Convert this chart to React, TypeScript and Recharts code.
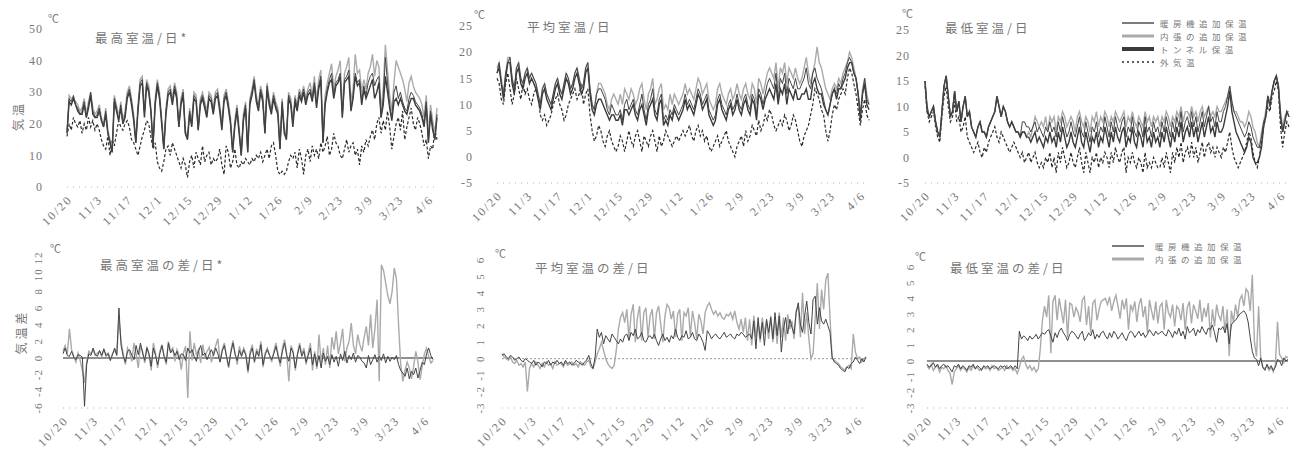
import React from 'react';
import { LineChart, Line, XAxis, YAxis, ReferenceLine } from 'recharts';

const SERIF = '"Liberation Serif", "DejaVu Serif", serif';
const JP = '"Noto Sans CJK JP", sans-serif';
const TXT = '#777';

// x axis: day index from 10/20, tick every 14 days
const dayTicks = [0, 14, 28, 42, 56, 70, 84, 98, 112, 126, 140, 154, 168];
const dateLabels = ['10/20', '11/3', '11/17', '12/1', '12/15', '12/29', '1/12', '1/26', '2/9', '2/23', '3/9', '3/23', '4/6'];

const seriesNames = ['暖房機追加保温', '内張の追加保温', 'トンネル保温', '外気温'];

// 最高室温/日
const maxHeater = [
  17, 28, 27, 29, 26, 25, 23, 24, 27, 22, 26, 30, 24, 22,
  23, 25, 21, 19, 24, 17, 14, 11, 28, 25, 21, 26, 20, 23,
  29, 31, 27, 22, 14, 25, 33, 34, 23, 33, 31, 24, 13, 27,
  33, 29, 21, 12, 24, 30, 31, 27, 32, 29, 19, 27, 30, 17,
  15, 24, 20, 29, 28, 18, 27, 29, 26, 23, 29, 28, 24, 29,
  30, 25, 19, 28, 30, 26, 21, 11, 20, 25, 18, 10, 22, 26,
  11, 27, 30, 34, 28, 25, 31, 28, 17, 32, 27, 24, 29, 26,
  24, 12, 27, 18, 15, 29, 27, 20, 28, 25, 30, 28, 31, 27,
  30, 31, 28, 33, 26, 32, 35, 14, 27, 31, 34, 36, 29, 33,
  34, 36, 22, 34, 35, 37, 25, 29, 36, 33, 34, 27, 32, 29,
  33, 35, 36, 32, 34, 35, 22, 28, 41, 33, 26, 22, 30, 32,
  28, 30, 27, 25, 24, 28, 30, 29, 27, 26, 25, 23, 20, 27,
  14, 24, 19, 15, 23,
];
const maxInner = [
  18, 29, 28, 28, 27, 26, 24, 25, 28, 23, 27, 30, 25, 23,
  24, 26, 22, 20, 25, 18, 15, 12, 29, 26, 22, 27, 21, 24,
  30, 32, 28, 23, 15, 26, 34, 35, 24, 34, 32, 25, 14, 28,
  34, 30, 22, 13, 25, 31, 32, 28, 33, 30, 20, 28, 31, 18,
  16, 25, 21, 30, 29, 19, 28, 30, 27, 24, 30, 29, 25, 30,
  31, 26, 20, 29, 31, 27, 22, 12, 21, 26, 19, 11, 23, 27,
  12, 28, 31, 35, 29, 26, 32, 29, 18, 33, 28, 25, 30, 27,
  25, 13, 28, 19, 16, 30, 28, 21, 29, 26, 31, 29, 32, 28,
  31, 33, 29, 35, 27, 34, 37, 15, 29, 33, 36, 39, 31, 35,
  37, 40, 24, 36, 38, 41, 27, 31, 42, 36, 37, 30, 34, 31,
  36, 38, 42, 35, 40, 38, 24, 31, 45, 37, 29, 24, 33, 40,
  38, 36, 34, 31, 27, 33, 35, 32, 30, 29, 28, 26, 22, 29,
  16, 26, 21, 17, 25,
];
const maxTunnel = [
  17, 27, 26, 28, 26, 24, 23, 23, 26, 22, 25, 29, 23, 22,
  22, 24, 21, 19, 23, 17, 14, 11, 27, 24, 21, 25, 20, 22,
  28, 30, 26, 21, 14, 24, 32, 33, 22, 32, 30, 24, 13, 26,
  32, 28, 20, 12, 23, 29, 30, 26, 31, 28, 19, 26, 29, 17,
  15, 23, 19, 28, 27, 18, 26, 28, 25, 22, 28, 27, 23, 28,
  29, 24, 18, 27, 29, 25, 20, 11, 19, 24, 17, 10, 21, 25,
  11, 26, 29, 33, 27, 24, 30, 27, 17, 31, 26, 23, 28, 25,
  23, 12, 26, 17, 15, 28, 26, 19, 27, 24, 29, 27, 30, 26,
  29, 30, 27, 32, 25, 31, 34, 14, 26, 30, 33, 34, 28, 32,
  33, 35, 22, 33, 34, 35, 24, 28, 35, 32, 33, 26, 31, 28,
  30, 32, 34, 28, 30, 33, 22, 26, 35, 30, 25, 21, 27, 28,
  26, 28, 26, 24, 23, 26, 28, 28, 26, 25, 24, 22, 19, 26,
  14, 23, 18, 15, 22,
];
const maxOutside = [
  16, 20, 18, 22, 20, 19, 21, 17, 20, 18, 22, 19, 21, 18,
  20, 18, 15, 13, 12, 16, 10, 15, 13, 17, 21, 19, 18, 20,
  21, 19, 15, 14, 12, 10, 13, 16, 18, 21, 20, 16, 12, 14,
  8, 6, 5, 8, 12, 13, 10, 14, 12, 10, 8, 6, 9, 7,
  3, 8, 10, 6, 11, 9, 7, 13, 8, 10, 11, 7, 9, 8,
  9, 12, 7, 4, 13, 11, 6, 8, 12, 7, 6, 8, 7, 9,
  8, 7, 9, 8, 10, 9, 11, 8, 10, 12, 9, 13, 14, 10,
  5, 4, 5, 4, 5, 8, 10, 9, 11, 6, 12, 9, 4, 10,
  12, 8, 13, 10, 12, 9, 14, 11, 13, 16, 10, 12, 17, 14,
  13, 10, 9, 12, 15, 11, 13, 14, 10, 12, 7, 13, 11, 15,
  13, 16, 18, 15, 20, 22, 17, 21, 18, 24, 19, 12, 16, 20,
  22, 18, 24, 15, 19, 22, 25, 20, 18, 22, 20, 17, 13, 15,
  9, 13, 12, 18, 15,
];

// 平均室温/日
const meanHeater = [
  16, 18, 14, 12, 16, 18, 19, 15, 13, 17, 18, 15, 14, 16,
  17, 15, 16, 15, 14, 12, 10, 13, 14, 12, 11, 10, 12, 14,
  15, 13, 12, 14, 16, 15, 13, 14, 16, 17, 15, 13, 14, 17,
  18, 13, 10, 9, 12, 13, 13, 12, 11, 9, 8, 10, 9, 8,
  8, 9, 7, 10, 11, 9, 10, 11, 9, 8, 10, 12, 9, 7,
  10, 11, 13, 9, 8, 11, 12, 7, 8, 7, 9, 8, 10, 9,
  8, 9, 10, 12, 10, 11, 10, 9, 11, 13, 12, 10, 11, 12,
  9, 8, 7, 8, 11, 12, 10, 9, 8, 10, 11, 9, 10, 12,
  10, 9, 11, 12, 10, 9, 12, 11, 8, 13, 12, 10, 12, 14,
  15, 14, 13, 16, 11, 15, 14, 16, 12, 15, 14, 13, 15, 13,
  13, 14, 15, 17, 14, 13, 16, 17, 15, 14, 13, 11, 9, 8,
  10, 12, 13, 12, 14, 13, 15, 16, 18, 19, 18, 16, 15, 12,
  8, 12, 15, 11, 10,
];
const meanInner = [
  17, 18, 15, 12, 16, 19, 19, 15, 13, 17, 18, 15, 14, 16,
  17, 15, 16, 15, 14, 12, 10, 13, 14, 12, 11, 10, 12, 14,
  15, 13, 12, 14, 16, 15, 13, 14, 16, 17, 15, 13, 14, 17,
  18, 13, 10, 9, 12, 14, 14, 13, 12, 10, 9, 11, 12, 11,
  10, 12, 10, 13, 12, 11, 13, 12, 10, 11, 13, 14, 11, 9,
  12, 13, 15, 10, 11, 13, 14, 9, 10, 9, 12, 10, 12, 11,
  10, 11, 12, 14, 12, 13, 12, 11, 13, 15, 14, 12, 13, 14,
  11, 10, 9, 10, 13, 14, 12, 11, 10, 12, 13, 11, 12, 14,
  12, 11, 13, 14, 12, 11, 14, 13, 10, 15, 14, 12, 14, 16,
  17, 16, 15, 18, 13, 17, 16, 18, 14, 17, 16, 15, 17, 15,
  14, 15, 17, 19, 16, 14, 16, 18, 21, 18, 17, 15, 13, 12,
  11, 13, 14, 13, 15, 14, 16, 17, 18, 20, 19, 17, 15, 12,
  8, 13, 15, 12, 10,
];
const meanTunnel = [
  16, 17, 14, 11, 15, 18, 18, 14, 12, 16, 17, 14, 13, 15,
  16, 14, 15, 14, 13, 11, 9, 12, 13, 11, 10, 9, 11, 13,
  14, 12, 11, 13, 15, 14, 12, 13, 15, 16, 14, 12, 13, 16,
  17, 12, 9, 8, 10, 11, 11, 10, 9, 8, 7, 8, 8, 7,
  7, 8, 6, 9, 9, 8, 9, 10, 8, 7, 9, 10, 8, 6,
  9, 10, 11, 8, 7, 10, 11, 6, 7, 6, 8, 7, 9, 8,
  7, 8, 9, 11, 9, 10, 9, 8, 10, 12, 11, 9, 10, 11,
  8, 7, 6, 7, 10, 11, 9, 8, 7, 9, 10, 8, 9, 11,
  9, 8, 10, 11, 9, 8, 11, 10, 7, 12, 11, 9, 11, 12,
  13, 12, 11, 14, 10, 13, 12, 14, 10, 13, 12, 11, 13, 11,
  11, 12, 12, 13, 11, 11, 14, 15, 13, 12, 12, 10, 9, 8,
  10, 12, 13, 11, 13, 13, 14, 15, 17, 18, 18, 16, 15, 12,
  7, 12, 14, 10, 9,
];
const meanOutside = [
  15, 14, 11, 10, 14, 16, 13, 10, 12, 15, 13, 11, 14, 12,
  13, 11, 10, 12, 13, 12, 8, 7, 8, 6, 7, 8, 10, 11,
  12, 10, 9, 7, 8, 10, 11, 12, 13, 11, 12, 14, 10, 12,
  13, 8, 5, 3, 4, 6, 5, 3, 2, 4, 5, 3, 2, 1,
  2, 4, 3, 1, 3, 5, 3, 2, 4, 5, 3, 1, 4, 3,
  2, 4, 5, 3, 1, 4, 2, 3, 5, 4, 3, 2, 3, 4,
  3, 4, 5, 4, 5, 6, 4, 3, 5, 6, 4, 5, 3, 4,
  2, 1, 2, 3, 4, 2, 3, 4, 5, 3, 2, 1, 0, 2,
  3, 4, 2, 5, 3, 4, 6, 5, 4, 7, 5, 6, 8, 7,
  9, 8, 6, 5, 6, 7, 6, 8, 7, 5, 6, 8, 7, 5,
  3, 2, 4, 5, 6, 8, 10, 13, 12, 11, 9, 8, 5, 3,
  5, 8, 10, 9, 11, 12, 13, 12, 15, 17, 16, 14, 12, 9,
  6, 9, 11, 8, 7,
];

// 最低室温/日
const minHeater = [
  15, 10, 8, 9, 10, 7, 5, 4, 9, 14, 16, 12, 8, 9,
  13, 9, 11, 7, 10, 12, 8, 9, 6, 5, 4, 6, 7, 5,
  5, 4, 6, 7, 8, 9, 12, 10, 8, 10, 9, 7, 6, 7,
  6, 5, 5, 4, 7, 7, 6, 6, 5, 6, 7, 5, 6, 5,
  4, 6, 5, 7, 5, 6, 4, 7, 5, 8, 6, 4, 5, 7,
  5, 4, 6, 8, 5, 4, 7, 5, 3, 6, 5, 7, 4, 6,
  5, 8, 6, 4, 7, 5, 8, 6, 5, 7, 8, 4, 6, 5,
  8, 5, 4, 7, 6, 4, 8, 5, 6, 4, 7, 5, 6, 4,
  7, 5, 8, 6, 4, 7, 5, 8, 6, 9, 5, 7, 8, 6,
  9, 6, 8, 5, 7, 9, 6, 8, 10, 7, 8, 6, 9, 7,
  7, 9, 10, 12, 14, 11, 9, 8, 7, 6, 5, 4, 5, 7,
  6, 4, 3, 2, 2, 4, 7, 8, 12, 10, 13, 15, 16, 14,
  8, 5, 7, 9, 8,
];
const minInner = [
  15, 10, 8, 9, 10, 7, 5, 4, 9, 14, 16, 12, 8, 9,
  13, 9, 11, 7, 10, 12, 8, 9, 6, 5, 4, 6, 7, 5,
  5, 4, 6, 7, 8, 9, 12, 10, 8, 10, 9, 7, 6, 7,
  6, 5, 5, 4, 5, 5, 4, 5, 4, 6, 8, 7, 6, 7,
  6, 8, 5, 8, 7, 8, 5, 8, 7, 9, 8, 6, 7, 8,
  7, 5, 8, 9, 7, 6, 8, 7, 5, 8, 7, 9, 6, 8,
  7, 9, 8, 6, 8, 7, 9, 8, 7, 8, 9, 6, 8, 7,
  9, 7, 6, 8, 7, 6, 9, 7, 8, 6, 8, 7, 8, 6,
  8, 7, 9, 8, 6, 8, 7, 9, 8, 10, 7, 9, 9, 8,
  10, 8, 9, 7, 9, 10, 8, 9, 10, 8, 9, 8, 10, 9,
  9, 10, 11, 12, 14, 11, 9, 9, 8, 7, 7, 6, 7, 9,
  8, 6, 5, 3, 2, 5, 7, 9, 12, 11, 13, 15, 16, 14,
  9, 6, 8, 9, 9,
];
const minTunnel = [
  15, 9, 8, 9, 10, 7, 5, 4, 9, 14, 16, 12, 8, 9,
  13, 9, 11, 7, 10, 12, 8, 9, 6, 5, 4, 6, 7, 5,
  5, 4, 6, 7, 8, 9, 12, 10, 8, 10, 9, 7, 6, 7,
  6, 5, 5, 4, 5, 5, 4, 4, 3, 4, 5, 3, 4, 3,
  2, 4, 3, 5, 3, 4, 2, 5, 3, 6, 4, 2, 3, 5,
  3, 2, 4, 6, 3, 2, 5, 3, 1, 4, 3, 5, 2, 4,
  3, 6, 4, 2, 5, 3, 6, 4, 3, 5, 6, 2, 4, 3,
  6, 3, 2, 5, 4, 2, 6, 3, 4, 2, 5, 3, 4, 2,
  5, 3, 6, 4, 2, 5, 3, 6, 4, 7, 3, 5, 6, 4,
  7, 4, 6, 3, 5, 7, 4, 6, 8, 5, 6, 4, 7, 5,
  5, 6, 8, 10, 13, 9, 7, 5, 4, 3, 2, 1, 2, 4,
  3, 0, -1, -1, 0, 2, 6, 8, 12, 10, 13, 15, 16, 14,
  8, 5, 7, 9, 8,
];
const minOutside = [
  14, 9, 7, 8, 9, 6, 4, 3, 8, 12, 14, 10, 7, 8,
  11, 7, 8, 5, 6, 8, 4, 3, 2, 1, 2, 3, 1, 0,
  2, 1, 3, 4, 5, 6, 4, 3, 5, 4, 3, 2, 1, 2,
  3, 2, 1, 0, 1, -1, 0, 1, -1, 0, 1, -1, -2, -1,
  -2, 0, -1, 1, -2, 0, -3, 1, -1, 2, 0, -2, -1, 1,
  -1, -2, 0, 2, -1, -3, 1, -1, -3, 0, -1, 1, -2, 0,
  -1, 1, 0, -2, 1, -1, 2, 0, -1, 1, 2, -3, 0, -1,
  1, -1, -2, 0, -1, -3, 1, -2, -1, -2, 0, -1, -2, -2,
  0, -2, 1, -1, -3, 1, -1, 2, 0, 3, -1, 1, 2, 0,
  3, 0, 2, -1, 1, 3, 0, 2, 3, 1, 2, 0, 2, 1,
  0, 2, 1, 3, 5, 2, 0, -1, -2, -1, 0, 1, 3, 5,
  4, 1, -1, -2, 0, 3, 6, 8, 10, 9, 12, 13, 15, 13,
  6, 2, 5, 7, 6,
];

// 最高室温の差/日
const diffMaxHeater = [
  0.5, 1.2, 0.3, 0.2, 0.8, 0.1, -0.2, 0.4, 0.3, 0.1, -5.8, -0.8, 0.5, 0.3,
  1.2, 0.4, 0.2, 0.9, 0.3, 1.1, 0.2, 0.5, -0.3, 0.4, 1.2, 0.3, 6, 1.5,
  0.2, -0.5, 0.8, 1, 0.3, -0.2, 1.5, 0.4, 1.8, 0.6, -0.3, 1.2, 0.5, -1,
  1.2, 0.3, -0.8, 0.5, 1.5, 0.2, -0.5, 1.8, 0.6, 1, 0.3, 0.8, -0.2, 0.5,
  0.4, -0.3, 1.2, 0.6, 1, 0.2, -0.4, 0.8, 1.5, 0.3, 0.6, -0.2, 0.5, 1,
  0.3, 1.2, 0.5, -0.5, 0.8, 1.5, 0.2, -1, 0.6, 1.8, 0.4, -0.3, 0.9, 0.2,
  1, 0.3, -1.5, 0.5, 1.2, -0.4, 0.8, 0.2, 1.6, -0.8, 0.4, 1, 0.3, -0.2,
  0.5, 1.4, 0.2, -0.6, 0.8, 1.8, 0.3, -0.4, 1.2, 0.6, -1.2, 0.4, 1.5, 0.2,
  0.8, -0.5, 0.3, 1.2, -0.8, 0.5, -1, 0.3, -1.2, 0.6, -0.4, 0.2, -0.8, 0.4,
  -0.5, 0.2, -1, 0.5, -0.3, 0.8, -0.6, 0.3, -0.2, 0.6, -0.5, 0.3, 0.1, -0.4,
  -0.6, -1.2, 0.3, -0.8, -0.2, 0.4, -0.5, 0.2, -0.3, 0.5, -0.6, 0.2, -0.4, 0.1,
  -0.2, 0.3, -0.8, -1.5, -1.8, -2.2, -1.2, -2.5, -1.6, -2, -1.2, -2.4, -1.5, -0.5,
  -0.8, 0.5, 1.2, 0.3, -0.2,
];
const diffMaxInner = [
  0.8, 1.5, 0.5, 3.5, 1, 0.2, -0.5, 0.6, -0.3, -1.5, -3, -0.5, 0.8, 0.5,
  1, 0.3, 0.6, 0.8, 0.2, 1, 0.4, 0.6, -0.2, 0.5, 1, 0.4, 4.5, 2,
  0.5, -0.8, 1.2, 0.6, -0.4, 1.8, 0.5, -1.2, 1.5, 0.8, -0.6, 1.4, 0.3, -1.5,
  1.8, 0.6, -1.2, 0.8, 1.6, 0.2, -0.8, 2, 0.8, 1.2, -0.4, 1, 0.3, -1.4,
  0.6, 1.4, -4.8, 3.2, -0.3, 1.8, 0.4, 1, -0.6, 1.6, 0.2, 0.8, 1.3, -0.5,
  0.6, 1.5, 2.3, -0.4, 1, 1.8, 0.2, -1.2, 0.8, 2.1, 0.6, -0.8, 1.4, 0.3,
  1.2, 0.5, -1.8, 0.8, 1.6, -0.6, 1.1, 0.4, 2, -1.1, 0.6, 1.2, 0.4, -0.5,
  0.8, 1.8, 0.4, -1, 1.2, 2.2, 0.5, -2.8, 1.5, 0.8, -1.5, 0.5, 1.8, 0.4,
  1.2, -0.8, 0.6, 1.8, -1.5, 0.8, -1.3, 2.8, -0.6, 1.2, -0.8, 1.5, -1.2, 2.5,
  1, 3.2, 0.5, 1.8, 3.5, -0.4, 1.2, 2, 4.2, 1.5, 0.5, 2.8, 1.6, 0.8,
  2.5, 3.8, 1.5, 5.2, 1.2, 3.5, 7, -2.8, 11.2, 10.5, 9, 7.5, 6.5, 8,
  10.8, 9.5, 4, -0.8, -2.8, -1.5, -0.5, -1.2, -2.5, -1, 0.8, -0.5, -2.6, -1,
  0.5, 1.2, 0.2, -0.6, -0.3,
];

// 平均室温の差/日
const diffMeanHeater = [
  0.2, 0.3, 0.1, 0, 0.2, 0.1, -0.1, 0, 0.1, -0.1, -0.2, 0, -0.1, -0.2,
  -0.3, -0.1, -0.4, -0.2, -0.3, -0.5, -0.2, -0.3, -0.1, -0.4, -0.2, -0.3, -0.1, -0.3,
  -0.2, -0.4, -0.1, -0.3, -0.2, -0.4, -0.3, -0.1, -0.2, -0.3, -0.4, -0.2, -0.1, 0.2,
  -0.3, -0.6, 0.1, 1.8, 1.3, 1.6, 0.9, 1.4, 1.2, 1, 1.5, 1.3, 1.1, 0.9,
  1.2, 1, 1.4, 1.5, 1.1, 1.6, 1.4, 1.8, 1.2, 1.3, 1.6, 1.1, 1, 1.3,
  1.4, 1.2, 1.5, 1.1, 0.8, 1.2, 1.5, 1.1, 1.3, 1, 1.4, 1.2, 1.8, 1.3,
  1.1, 1.4, 1.3, 1.7, 1.2, 1.3, 1.6, 1.2, 1.1, 1.5, 1.3, 1, 0.5, 1.7,
  1.5, 1.2, 1.4, 1.5, 1.3, 1.2, 1.4, 1.6, 1.3, 1.4, 1.5, 1.3, 1.2, 1.5,
  1.4, 1.6, 1.5, 1.3, 1.4, 1.5, 1.2, 2.3, 0.6, 2.5, 1.2, 2.2, 0.8, 2.4,
  1.6, 2.5, 1.2, 2.8, 1.4, 2.6, 0.4, 1.8, 2.5, 1.5, 2.4, 1.9, 1.5, 2.8,
  3.4, 2.1, 1.6, 2.6, 3.5, 2.2, 1.5, 3.6, 3.8, 2.1, 3.1, 2.3, 2.1, 2.4,
  2, 1.6, 0.1, -0.2, -0.3, -0.4, -0.6, -0.7, -0.8, -0.5, -0.6, -0.3, -0.2, 0.1,
  -0.1, -0.3, 0, -0.2, 0.1,
];
const diffMeanInner = [
  0.3, 0.1, 0, -0.1, 0.1, -0.2, -0.3, -0.1, -0.4, -0.3, -0.5, -0.2, -2, -0.6,
  -0.3, -0.5, -0.2, -0.4, -0.6, -0.3, -0.5, -0.2, -0.4, -0.3, -0.6, -0.2, -0.4, -0.3,
  -0.3, -0.5, -0.2, -0.4, -0.3, -0.2, -0.4, -0.3, -0.5, -0.2, -0.3, -0.4, -0.2, -0.1,
  -0.5, -0.6, -0.2, 0.3, 0.6, 1, 0.5, 0, -0.3, -0.5, -0.6, -0.4, 0.5, 1.8,
  2.5, 2.8, 2.2, 3, 1.2, 2.7, 3.3, 1, 2.5, 3.2, 1.1, 2.8, 3.1, 1.3,
  2.6, 3, 1.2, 2.8, 3.2, 2.1, 1, 2.6, 3.3, 3.1, 2.4, 2.9, 1.3, 2.7,
  3, 1.1, 2.8, 2.6, 3.1, 1.4, 2.9, 2.2, 1.2, 2.7, 2.3, 1.5, 2.8, 3.2,
  3.4, 3, 2.7, 2.9, 2.6, 2.8, 2.5, 2.4, 2.7, 2.6, 2.8, 2.4, 2.9, 2.2,
  1.8, 2.4, 1.6, 2.5, 1.1, 2.4, 0.8, 2.6, 1.3, 2.2, 1, 2.5, 1.5, 2.3,
  1.2, 2.6, 1, 2.4, 0.9, 2.8, 1.3, 2.5, 1.1, 2.7, 1.8, 2.3, 1.2, 2.9,
  3.2, 1.3, 4, 1.5, 2.8, 1.2, 0, 0.3, 2.5, 4.6, 1.8, 4.2, 3, 4.8,
  5.2, 2.5, 0, -0.1, -0.2, -0.3, -0.5, -0.6, -0.7, -0.5, -0.4, -0.6, 1.5, 0.4,
  0, 0.1, -0.2, 0, 0.1,
];

// 最低室温の差/日
const diffMinHeater = [
  -0.2, -0.4, -0.3, -0.1, -0.4, -0.2, -0.5, -0.3, -0.2, -0.4, -0.3, -0.5, -0.7, -0.3,
  -0.4, -0.2, -0.5, -0.3, -0.4, -0.6, -0.3, -0.4, -0.2, -0.5, -0.3, -0.4, -0.6, -0.3,
  -0.4, -0.3, -0.5, -0.4, -0.3, -0.4, -0.5, -0.3, -0.4, -0.3, -0.5, -0.4, -0.3, -0.5,
  -0.3, -0.5, 1.9, 1.4, 1.6, 1.5, 1.3, 1.6, 1.4, 1.5, 1.7, 1.4, 1.6, 1.8,
  1.7, 1.9, 2, 1.6, 1.2, 1.8, 1.5, 1.9, 2.1, 1.8, 1.6, 1.3, 1.7, 1.9,
  1.8, 1.6, 1.4, 1.7, 1.9, 1.3, 1.5, 1.8, 1.6, 2, 1.4, 1.7, 1.5, 1.8,
  1.9, 1.6, 1.4, 1.8, 1.5, 1.9, 1.7, 1.4, 1.6, 1.8, 1.5, 1.3, 1.7, 1.9,
  1.8, 1.5, 1.7, 1.9, 1.6, 1.8, 1.5, 1.7, 2, 1.8, 1.6, 1.9, 1.7, 1.8,
  1.9, 1.7, 1.6, 2, 1.8, 1.5, 1.9, 1.7, 2.1, 1.6, 1.9, 1.4, 2.2, 1.8,
  1.9, 2.1, 1.6, 2, 1.8, 2.2, 1.9, 1.7, 2.1, 2, 2.3, 1.8, 1.2, 2.1,
  2, 2.2, 1.8, 2.4, 1.1, 2.3, 2.5, 2.6, 2.8, 3, 3.1, 3.2, 3, 2.5,
  1.5, 0.6, 0.2, 0.1, -0.3, 0.2, -0.4, -0.6, -0.2, -0.5, -0.3, -0.6, -0.4, 0.1,
  0, -0.3, 0.2, 0, 0.1,
];
const diffMinInner = [
  -0.3, -0.5, -0.2, -0.6, -0.4, -0.3, -0.7, -0.4, -0.5, -0.3, -0.6, -0.8, -1.5, -0.7,
  -0.5, -0.3, -0.6, -0.4, -0.5, -0.7, -0.4, -0.6, -0.3, -0.5, -0.4, -0.6, -0.5, -0.4,
  -0.5, -0.4, -0.6, -0.3, -0.5, -0.4, -0.6, -0.5, -0.4, -0.6, -0.3, -0.5, -0.4, -0.6,
  -0.5, -0.8, -0.4, 0.1, 0.3, -0.2, -0.5, -0.3, -0.6, -0.4, -0.7, -0.5, 0.8, 2.6,
  3.5, 2.8, 4.2, 0.5, 3.8, 4.2, 2.6, 4, 3.2, 2.4, 3.9, 1.5, 3.7, 3.6,
  2.8, 3.4, 3.1, 2.5, 3.9, 4.1, 2.3, 3.5, 1.8, 3.7, 3.9, 2.6, 3.3, 3.8,
  3.9, 4, 3.6, 4.1, 3.2, 3.8, 4.2, 3.5, 2.7, 3.9, 3.3, 4, 2, 3.6,
  3.2, 3.8, 2.5, 3.6, 4, 2.8, 3.5, 1.8, 3.9, 3.2, 2.6, 3.8, 2.4, 3.5,
  3.7, 2, 3.9, 3.1, 2.8, 3.6, 2.2, 3.5, 3.3, 2.6, 3.7, 2, 3.4, 3.8,
  2.4, 3.6, 3.2, 2.7, 3.9, 2.5, 3.4, 2.8, 3.7, 1.5, 3.3, 2.2, 3.6, 2.9,
  2.6, 3.5, 1.8, 3.3, 0.3, 3.2, 2.5, 3.6, 2.8, 3.9, 4.2, 3.5, 4.6, 4.4,
  3.2, 5.5, 1.2, 0.3, 3.5, 0.2, -0.4, -0.5, -0.3, -0.6, -0.4, -0.7, -0.2, 2.5,
  0.4, 0.2, -0.1, 0.3, 0.2,
];

type SeriesStyle = { key: string; color: string; width: number; dash?: string };

const styleHeater: SeriesStyle = { key: 'a', color: '#444', width: 1 };
const styleInner: SeriesStyle = { key: 'b', color: '#aaa', width: 1.4 };
const styleTunnel: SeriesStyle = { key: 'c', color: '#3a3a3a', width: 1.4 };
const styleOutside: SeriesStyle = { key: 'd', color: '#2a2a2a', width: 1.2, dash: '3 2' };

function buildRows(a: number[], b: number[], c?: number[], d?: number[]) {
  return a.map((v, i) => ({ day: i, a: v, b: b[i], c: c ? c[i] : null, d: d ? d[i] : null }));
}

const DateTick = (props: any) => {
  const { x, y, payload } = props;
  const idx = dayTicks.indexOf(payload.value);
  return (
    <g transform={`translate(${x},${y})`}>
      <text x={0} y={0} dy="0.72em" textAnchor="end" fontSize={12} letterSpacing={2} fill={TXT} fontFamily={SERIF} transform="rotate(-45)">
        {dateLabels[idx]}
      </text>
    </g>
  );
};

const ValueTick = (props: any) => {
  const { x, y, payload } = props;
  return (
    <text x={x} y={y} dy="0.35em" textAnchor="end" fontSize={12} letterSpacing={1} fill={TXT} fontFamily={SERIF}>
      {payload.value}
    </text>
  );
};

const SideTick = (props: any) => {
  const { x, y, payload } = props;
  return (
    <text x={x} y={y} textAnchor="middle" fontSize={11} letterSpacing={1} fill={TXT} fontFamily={SERIF} transform={`rotate(-90 ${x} ${y})`}>
      {payload.value}
    </text>
  );
};

interface PanelProps {
  left: number;
  top: number;
  width: number;
  height: number;
  plotLeft: number;
  plotRight: number;
  plotTop: number;
  plotBottom: number;
  yDomain: [number, number];
  yTicks: number[];
  yMargin: number;
  sideways?: boolean;
  rows: any[];
  series: SeriesStyle[];
  zeroLine?: 'solid' | 'dotted';
}

const Panel: React.FC<PanelProps> = (p) => (
  <div style={{ position: 'absolute', left: p.left, top: p.top }}>
    <LineChart
      width={p.width}
      height={p.height}
      data={p.rows}
      margin={{ top: p.plotTop, right: p.width - p.plotRight, bottom: 0, left: 0 }}
    >
      <XAxis
        type="number"
        dataKey="day"
        domain={[0, 172]}
        ticks={dayTicks}
        interval={0}
        height={p.height - p.plotBottom}
        tick={<DateTick />}
        tickLine={false}
        tickSize={0}
        tickMargin={7}
        axisLine={{ stroke: '#b0b0b0', strokeDasharray: '1 5' }}
      />
      <YAxis
        type="number"
        domain={p.yDomain}
        ticks={p.yTicks}
        interval={0}
        width={p.plotLeft}
        tick={p.sideways ? <SideTick /> : <ValueTick />}
        tickLine={false}
        tickSize={0}
        tickMargin={p.yMargin}
        axisLine={false}
        allowDataOverflow
      />
      {p.zeroLine && (
        <ReferenceLine
          y={0}
          stroke={p.zeroLine === 'solid' ? '#222' : '#999'}
          strokeWidth={p.zeroLine === 'solid' ? 1.2 : 1}
          strokeDasharray={p.zeroLine === 'solid' ? undefined : '2 2'}
        />
      )}
      {p.series.map((s) => (
        <Line
          key={s.key}
          type="linear"
          dataKey={s.key}
          stroke={s.color}
          strokeWidth={s.width}
          strokeDasharray={s.dash}
          dot={false}
          isAnimationActive={false}
        />
      ))}
    </LineChart>
  </div>
);

const Label = ({ x, y, text, size = 12.5, spacing = 3 }: { x: number; y: number; text: string; size?: number; spacing?: number }) => (
  <div style={{ position: 'absolute', left: x, top: y, fontSize: size, lineHeight: 1, letterSpacing: spacing, fontFamily: JP, color: TXT, whiteSpace: 'nowrap' }}>
    {text}
  </div>
);

const VLabel = ({ cx, cy, text }: { cx: number; cy: number; text: string }) => (
  <div
    style={{
      position: 'absolute', left: cx - 30, top: cy - 7, width: 60, height: 14, textAlign: 'center',
      fontSize: 12, lineHeight: '14px', letterSpacing: 3, fontFamily: JP, color: TXT, transform: 'rotate(-90deg)',
    }}
  >
    {text}
  </div>
);

const LegendRow = ({ x, y, text, s, textX }: { x: number; y: number; text: string; s: SeriesStyle; textX: number }) => (
  <>
    <svg style={{ position: 'absolute', left: x, top: y - 4 }} width={32} height={8}>
      <line x1={0} y1={4} x2={32} y2={4} stroke={s.color} strokeWidth={s === styleTunnel ? 4 : s === styleInner ? 3 : s.width + 0.4}
        strokeDasharray={s === styleOutside ? '2 3' : undefined} />
    </svg>
    <div style={{ position: 'absolute', left: textX, top: y - 5, fontSize: 8.5, lineHeight: '10px', letterSpacing: 4.5, fontFamily: JP, color: TXT, whiteSpace: 'nowrap' }}>
      {text}
    </div>
  </>
);

const topSeries = [styleOutside, styleInner, styleTunnel, styleHeater];
const bottomSeries = [styleInner, styleHeater];

export default function App() {
  const rowsMax = buildRows(maxHeater, maxInner, maxTunnel, maxOutside);
  const rowsMean = buildRows(meanHeater, meanInner, meanTunnel, meanOutside);
  const rowsMin = buildRows(minHeater, minInner, minTunnel, minOutside);
  const rowsDMax = buildRows(diffMaxHeater, diffMaxInner);
  const rowsDMean = buildRows(diffMeanHeater, diffMeanInner);
  const rowsDMin = buildRows(diffMinHeater, diffMinInner);

  return (
    <div style={{ position: 'absolute', left: 0, top: 0, width: 1294, height: 451, background: '#fff', overflow: 'hidden' }}>
      <Panel left={0} top={0} width={445} height={232} plotLeft={67} plotRight={437} plotTop={29} plotBottom={187}
        yDomain={[0, 50]} yTicks={[0, 10, 20, 30, 40, 50]} yMargin={24} rows={rowsMax} series={topSeries} />
      <Panel left={440} top={0} width={435} height={232} plotLeft={57} plotRight={429} plotTop={26} plotBottom={183}
        yDomain={[-5, 25]} yTicks={[-5, 0, 5, 10, 15, 20, 25]} yMargin={24} rows={rowsMean} series={topSeries} />
      <Panel left={870} top={0} width={424} height={232} plotLeft={55} plotRight={419} plotTop={30} plotBottom={183}
        yDomain={[-5, 25]} yTicks={[-5, 0, 5, 10, 15, 20, 25]} yMargin={15} rows={rowsMin} series={topSeries} />

      <Panel left={0} top={230} width={445} height={221} plotLeft={63} plotRight={433} plotTop={28} plotBottom={178}
        yDomain={[-6, 12]} yTicks={[-6, -4, -2, 0, 2, 4, 6, 8, 10, 12]} yMargin={21} sideways rows={rowsDMax}
        series={bottomSeries} zeroLine="solid" />
      <Panel left={440} top={230} width={435} height={221} plotLeft={62} plotRight={426} plotTop={30} plotBottom={178}
        yDomain={[-3, 6]} yTicks={[-3, -2, -1, 0, 1, 2, 3, 4, 5, 6]} yMargin={18} sideways rows={rowsDMean}
        series={bottomSeries} zeroLine="dotted" />
      <Panel left={870} top={230} width={424} height={221} plotLeft={57} plotRight={418} plotTop={37} plotBottom={178}
        yDomain={[-3, 6]} yTicks={[-3, -2, -1, 0, 1, 2, 3, 4, 5, 6]} yMargin={13} sideways rows={rowsDMin}
        series={bottomSeries} zeroLine="solid" />

      <Label x={95} y={32} text="最高室温/日*" />
      <Label x={527} y={21} text="平均室温/日" />
      <Label x={945} y={22} text="最低室温/日" />
      <Label x={100} y={259} text="最高室温の差/日*" />
      <Label x={535} y={262} text="平均室温の差/日" />
      <Label x={950} y={262} text="最低室温の差/日" />

      <Label x={48} y={13} text="℃" size={11} spacing={0} />
      <Label x={474} y={9} text="℃" size={11} spacing={0} />
      <Label x={902} y={8} text="℃" size={11} spacing={0} />
      <Label x={50} y={243} text="℃" size={11} spacing={0} />
      <Label x={495} y={248} text="℃" size={11} spacing={0} />
      <Label x={915} y={251} text="℃" size={11} spacing={0} />

      <VLabel cx={18} cy={116} text="気温" />
      <VLabel cx={21} cy={332} text="気温差" />

      <LegendRow x={1122} y={23} textX={1160} text={seriesNames[0]} s={styleHeater} />
      <LegendRow x={1122} y={36} textX={1160} text={seriesNames[1]} s={styleInner} />
      <LegendRow x={1122} y={49} textX={1160} text={seriesNames[2]} s={styleTunnel} />
      <LegendRow x={1122} y={62} textX={1160} text={seriesNames[3]} s={styleOutside} />

      <LegendRow x={1112} y={246} textX={1155} text={seriesNames[0]} s={styleHeater} />
      <LegendRow x={1112} y={259} textX={1155} text={seriesNames[1]} s={styleInner} />
    </div>
  );
}
